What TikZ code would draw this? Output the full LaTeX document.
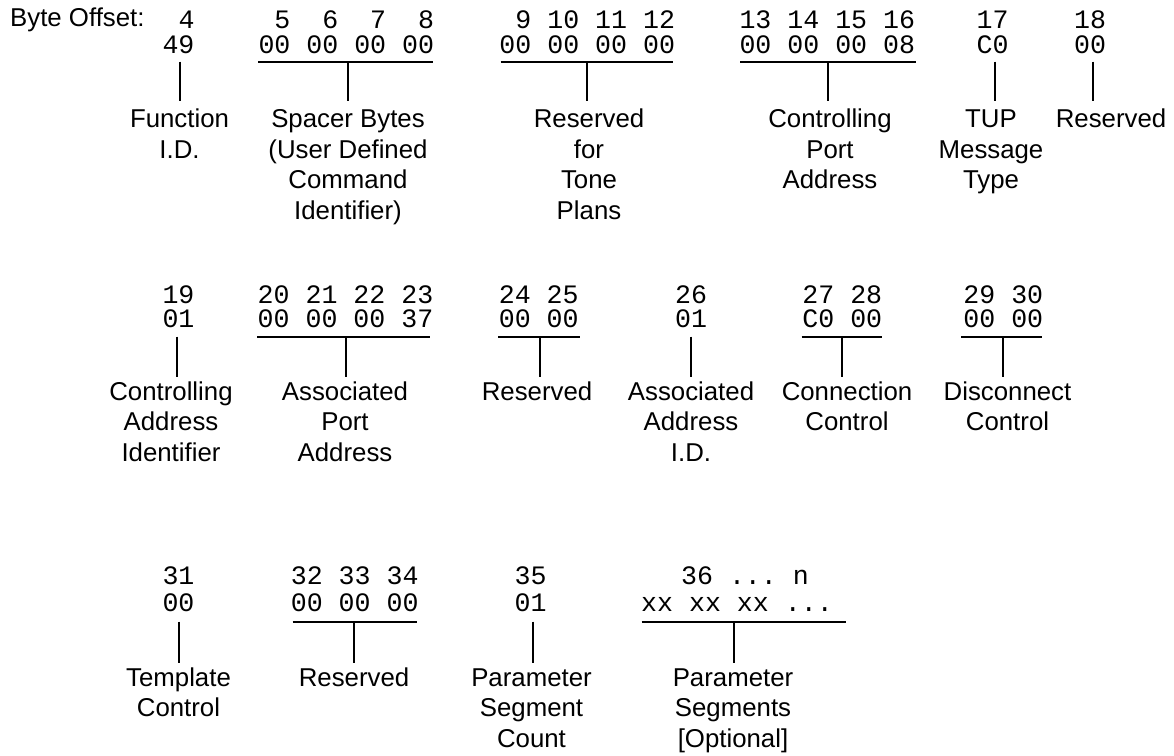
\documentclass[tikz,border=0pt]{standalone}
\usepackage{fontspec}
\setmainfont{Liberation Sans}
\setmonofont{Liberation Mono}
\newcommand\lt{\rule{0pt}{20pt}}
\tikzset{
  lbl/.style={font=\fontsize{25.8}{30.5}\selectfont, align=center, anchor=north, inner sep=0pt},
  hexs/.style={font=\ttfamily\fontsize{26.6}{30}\selectfont, anchor=base, inner sep=0pt},
  bar/.style={line width=2pt},
  stem/.style={line width=2pt},
}
% #1 id, #2 hex centre x, #3 offsets, #4 hex bytes, #5 stem x, #6 label x, #7 label text
\newcommand\fld[7]{%
  \node[hexs] (o#1) at (#2,\ro) {#3};
  \node[hexs] (h#1) at (#2,\rh) {#4};
  \coordinate (t#1) at (#5,\rb);
  \node[lbl] (l#1) at (#6,\rl) {\lt #7};
  \draw[stem, shorten >=\rs pt] (t#1) -- (t#1 |- l#1.north);
}
\newcommand\barline[3]{%
  \coordinate (a#1) at (#2,\rb);
  \coordinate (b#1) at (#3,\rb);
  \draw[bar] (a#1) -- (b#1);
}
\begin{document}
\begin{tikzpicture}[x=1pt,y=-1pt]
\useasboundingbox (0,0) rectangle (1174,755);
\node[font=\fontsize{25.8}{30.5}\selectfont, anchor=base west, inner sep=0pt] (bo) at (10,26) {Byte Offset:};

% row 1
\def\ro{28}\def\rh{53}\def\rb{61.7}\def\rl{107.7}\def\rs{6.7}
\barline{2}{258}{432.7}
\barline{3}{500.7}{672.7}
\barline{4}{740}{915.7}
\fld{1}{178.5}{~4}{49}{180}{179.5}{Function\\I.D.}
\fld{2}{346.3}{~5~~6~~7~~8}{00~00~00~00}{348}{348}{Spacer Bytes\\(User Defined\\Command\\Identifier)}
\fld{3}{587.2}{~9~10~11~12}{00~00~00~00}{586.7}{589}{Reserved\\for\\Tone\\Plans}
\fld{4}{827.3}{13~14~15~16}{00~00~00~08}{827.7}{830}{Controlling\\Port\\Address}
\fld{5}{992.5}{17}{C0}{995}{991}{TUP\\Message\\Type}
\fld{6}{1090}{18}{00}{1092.7}{1111}{Reserved}

% row 2
\def\ro{303}\def\rh{327.5}\def\rb{336.7}\def\rl{380}\def\rs{3}
\barline{8}{257.3}{430}
\barline{9}{498.3}{580}
\barline{11}{801.7}{882}
\barline{12}{961}{1042.3}
\fld{7}{178.5}{19}{01}{177.3}{171}{Controlling\\Address\\Identifier}
\fld{8}{345.5}{20~21~22~23}{00~00~00~37}{346}{345}{Associated\\Port\\Address}
\fld{9}{538.7}{24~25}{00~00}{540}{537}{Reserved}
\fld{10}{691}{26}{01}{690.7}{691}{Associated\\Address\\I.D.}
\fld{11}{842.3}{27~28}{C0~00}{841.7}{847}{Connection\\Control}
\fld{12}{1003.3}{29~30}{00~00}{1002.7}{1007.5}{Disconnect\\Control}

% row 3
\def\ro{584}\def\rh{611.7}\def\rb{621.7}\def\rl{666}\def\rs{3}
\barline{14}{292.7}{417}
\barline{16}{641.7}{845.7}
\fld{13}{178.5}{31}{00}{179}{178.5}{Template\\Control}
\fld{14}{354.7}{32~33~34}{00~00~00}{354.3}{354}{Reserved}
\fld{15}{530.7}{35}{01}{532.7}{531.5}{Parameter\\Segment\\Count}
\fld{16}{737}{~~36~...~n~~}{xx~xx~xx~...}{734}{733}{Parameter\\Segments\\{}[Optional]}
\end{tikzpicture}
\end{document}
